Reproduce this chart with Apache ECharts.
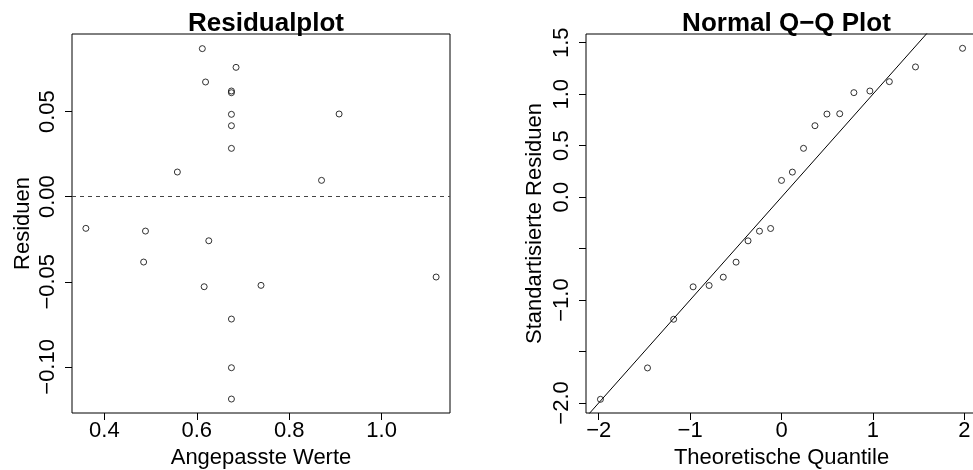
<!DOCTYPE html>
<html>
<head>
<meta charset="utf-8">
<script src="https://cdn.jsdelivr.net/npm/echarts@6/dist/echarts.min.js"></script>
<style>
  html, body { margin: 0; padding: 0; background: #ffffff; }
  #chart { width: 973px; height: 470px; }
</style>
</head>
<body>
<div id="chart"></div>
<script>
// Residualplot: angepasste Werte vs. Residuen
const fittedValues = [0.612, 0.685, 0.619, 0.675, 0.675, 0.675, 0.675, 0.675, 0.908, 0.558, 0.870,
  0.360, 0.489, 0.626, 0.485, 0.616, 0.739, 1.118, 0.675, 0.675, 0.675]
const residuals = [0.0870, 0.0760, 0.0674, 0.0621, 0.0611, 0.0484, 0.0417, 0.0284, 0.0486, 0.0145, 0.0096,
  -0.0186, -0.0202, -0.0259, -0.0384, -0.0529, -0.0521, -0.0472, -0.0719, -0.1005, -0.1189]

// Normal Q-Q Plot
const theoQuantiles = [-1.981, -1.466, -1.180, -0.967, -0.792, -0.637, -0.497, -0.366, -0.241, -0.119, 0,
  0.119, 0.241, 0.366, 0.497, 0.637, 0.792, 0.967, 1.180, 1.466, 1.981]
const stdResiduals = [-1.965, -1.660, -1.187, -0.872, -0.859, -0.778, -0.632, -0.425, -0.331, -0.305, 0.162,
  0.243, 0.474, 0.694, 0.807, 0.810, 1.015, 1.031, 1.122, 1.265, 1.446]
const refLineX = [-3, 3]
const refLineY = [-3, 3]

// tick positions and labels
const resXTicks = [0.4, 0.6, 0.8, 1.0]
const resYTicks = [-0.10, -0.05, 0.00, 0.05]
const qqXTicks = [-2, -1, 0, 1, 2]
const qqYTicks = [-2.0, -1.5, -1.0, -0.5, 0.0, 0.5, 1.0, 1.5]
const qqYLabels = [-2.0, -1.0, 0.0, 0.5, 1.0, 1.5]

const FONT = 'Liberation Sans'
const minus = s => s.replace('-', '\u2212')

const chart = echarts.init(document.getElementById('chart'))

const baseAxis = (ticks, labels, fmt, isY) => ({
  type: 'value',
  splitLine: { show: false },
  axisLine: { show: false, onZero: false },
  axisTick: {
    show: true,
    length: 7,
    customValues: ticks,
    lineStyle: { color: '#000', width: 1 }
  },
  axisLabel: {
    customValues: labels,
    formatter: v => minus(fmt(v)),
    color: '#000',
    fontFamily: FONT,
    fontSize: 22,
    margin: isY ? 13 : 7,
    rotate: isY ? 90 : 0
  },
  nameLocation: 'middle',
  nameTextStyle: { color: '#000', fontFamily: FONT, fontSize: 22 }
})

const option = {
  animation: false,
  backgroundColor: '#ffffff',
  title: [
    {
      text: 'Residualplot', left: 261, top: 6, textAlign: 'center',
      textStyle: { fontFamily: FONT, fontSize: 26, fontWeight: 'bold', color: '#000' }
    },
    {
      text: 'Normal Q\u2212Q Plot', left: 781.5, top: 6, textAlign: 'center',
      textStyle: { fontFamily: FONT, fontSize: 26, fontWeight: 'bold', color: '#000' }
    }
  ],
  grid: [
    { left: 72, top: 34, width: 378, height: 379, show: true, borderColor: '#000', borderWidth: 1,
      containLabel: false, outerBoundsMode: 'none' },
    { left: 586, top: 34, width: 391, height: 379, show: true, borderColor: '#000', borderWidth: 1,
      containLabel: false, outerBoundsMode: 'none' }
  ],
  xAxis: [
    Object.assign(baseAxis(resXTicks, resXTicks, v => v.toFixed(1), false), {
      gridIndex: 0, min: 0.330, max: 1.148, name: 'Angepasste Werte', nameGap: 32
    }),
    Object.assign(baseAxis(qqXTicks, qqXTicks, v => String(v), false), {
      gridIndex: 1, min: -2.139, max: 2.139, name: 'Theoretische Quantile', nameGap: 32
    })
  ],
  yAxis: [
    Object.assign(baseAxis(resYTicks, resYTicks, v => v.toFixed(2), true), {
      gridIndex: 0, min: -0.1271, max: 0.0956, name: 'Residuen', nameGap: 38
    }),
    Object.assign(baseAxis(qqYTicks, qqYLabels, v => v.toFixed(1), true), {
      gridIndex: 1, min: -2.098, max: 1.585, name: 'Standartisierte Residuen', nameGap: 40
    })
  ],
  series: [
    {
      type: 'scatter',
      xAxisIndex: 0, yAxisIndex: 0,
      data: fittedValues.map((x, i) => [x, residuals[i]]),
      symbol: 'circle',
      symbolSize: 6,
      itemStyle: { color: 'transparent', borderColor: '#000', borderWidth: 1 },
      markLine: {
        silent: true,
        symbol: 'none',
        label: { show: false },
        lineStyle: { color: '#444', type: [4, 4], width: 1 },
        data: [{ yAxis: 0 }]
      }
    },
    {
      type: 'scatter',
      xAxisIndex: 1, yAxisIndex: 1,
      data: theoQuantiles.map((x, i) => [x, stdResiduals[i]]),
      symbol: 'circle',
      symbolSize: 6,
      itemStyle: { color: 'transparent', borderColor: '#000', borderWidth: 1 }
    },
    {
      type: 'line',
      xAxisIndex: 1, yAxisIndex: 1,
      data: refLineX.map((x, i) => [x, refLineY[i]]),
      showSymbol: false,
      clip: true,
      lineStyle: { color: '#000', width: 1 }
    }
  ]
}

chart.setOption(option)
</script>
</body>
</html>
